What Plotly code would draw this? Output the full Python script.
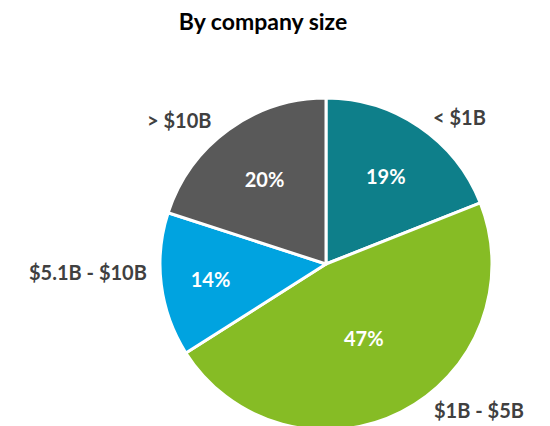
import plotly.graph_objects as go

categories = ["< $1B", "$1B - $5B", "$5.1B - $10B", "> $10B"]
values = [19, 47, 14, 20]
colors = ["#0E7F8A", "#86BC25", "#00A3E0", "#595959"]

W, H = 550, 426
OFF = 8  # page body margin offset
FONT = "Lato, 'Open Sans', sans-serif"

cx, cy, r = 326 - OFF, 264 - OFF, 166

fig = go.Figure(go.Pie(
    labels=categories,
    values=values,
    sort=False,
    direction="clockwise",
    rotation=0,
    marker=dict(colors=colors, line=dict(color="white", width=3)),
    texttemplate="%{value}%",
    textposition="inside",
    insidetextorientation="horizontal",
    textfont=dict(family=FONT, size=20, color="white", weight="bold"),
    domain=dict(x=[(cx - r) / W, (cx + r) / W], y=[1 - (cy + r) / H, 1 - (cy - r) / H]),
    showlegend=False,
    hoverinfo="label+percent",
))

# outside category labels (page pixel centres)
label_pos = {
    "< $1B": (459, 117),
    "$1B - $5B": (479, 410),
    "$5.1B - $10B": (88, 272),
    "> $10B": (179, 120),
}
for cat in categories:
    x, y = label_pos[cat]
    fig.add_annotation(
        x=(x - OFF) / W, y=1 - (y - OFF) / H, xref="paper", yref="paper",
        text=cat, showarrow=False, xanchor="center", yanchor="middle",
        font=dict(family=FONT, size=20, color="#404040", weight="bold"),
    )

fig.update_layout(
    width=W, height=H,
    margin=dict(l=0, r=0, t=0, b=0),
    paper_bgcolor="white",
    plot_bgcolor="white",
    title=dict(
        text="<b>By company size</b>",
        x=(263 - OFF) / W, xanchor="center", xref="paper",
        y=1 - (22 - OFF) / H, yanchor="middle", yref="paper",
        font=dict(family=FONT, size=23, color="#000000"),
    ),
)

fig.write_html("out.html")
